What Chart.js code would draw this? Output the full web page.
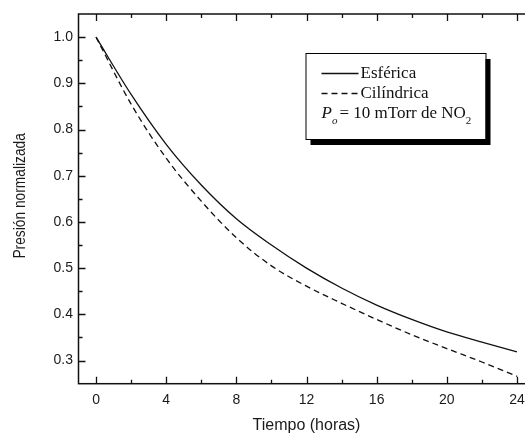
<!DOCTYPE html>
<html>
<head>
<meta charset="utf-8">
<script src="https://cdn.jsdelivr.net/npm/chart.js@4/dist/chart.umd.min.js"></script>
<style>
  html, body { margin: 0; padding: 0; background: #fff; overflow: hidden; }
  #wrap { width: 525px; height: 434px; overflow: hidden; position: relative; }
  #c { position: absolute; left: 0; top: 0; }
</style>
</head>
<body>
<div id="wrap"><canvas id="c" width="545" height="434"></canvas></div>
<script>
// Normalized NO2 pressure vs. time for two vessel geometries
const horas      = [0, 2, 4, 6, 8, 10, 12, 14, 16, 18, 20, 22, 24];
const esferica   = [1.000, 0.876, 0.768, 0.680, 0.607, 0.550, 0.500, 0.457, 0.420, 0.389, 0.362, 0.340, 0.319];
const cilindrica = [1.000, 0.855, 0.738, 0.645, 0.566, 0.505, 0.461, 0.424, 0.389, 0.356, 0.326, 0.297, 0.266];

const serieNames = ['Esférica', 'Cilíndrica'];
const xTicks  = [0, 4, 8, 12, 16, 20, 24];
const xMinor  = [2, 6, 10, 14, 18, 22];
const yTicks  = [0.3, 0.4, 0.5, 0.6, 0.7, 0.8, 0.9, 1.0];
const yMinor  = [0.35, 0.45, 0.55, 0.65, 0.75, 0.85, 0.95];
const xTitle  = 'Tiempo (horas)';
const yTitle  = 'Presión normalizada';

const toPts = (xs, ys) => xs.map((h, i) => ({ x: h, y: ys[i] }));

const INK = '#111';
const TEXT = '#1a1a1a';
const sansFont = "'Liberation Sans', Arial, sans-serif";
const serifFont = "'Liberation Serif', 'Times New Roman', serif";

// Frame with inward major/minor ticks on all four sides
const framePlugin = {
  id: 'frame',
  afterDatasetsDraw(chart) {
    const { ctx, chartArea: a, scales: { x, y } } = chart;
    ctx.save();
    ctx.strokeStyle = INK;
    ctx.lineWidth = 1.5;
    ctx.strokeRect(a.left, a.top, a.right - a.left, a.bottom - a.top);
    ctx.lineWidth = 1.3;
    ctx.beginPath();
    const xt = (v, len) => {
      const p = Math.round(x.getPixelForValue(v)) + 0.5;
      ctx.moveTo(p, a.bottom); ctx.lineTo(p, a.bottom - len);
      ctx.moveTo(p, a.top);    ctx.lineTo(p, a.top + len);
    };
    const yt = (v, len) => {
      const p = Math.round(y.getPixelForValue(v)) + 0.5;
      ctx.moveTo(a.left, p);  ctx.lineTo(a.left + len, p);
      ctx.moveTo(a.right, p); ctx.lineTo(a.right - len, p);
    };
    xTicks.forEach(v => xt(v, 7));
    xMinor.forEach(v => xt(v, 4));
    yTicks.forEach(v => yt(v, 7));
    yMinor.forEach(v => yt(v, 4));
    ctx.stroke();
    ctx.restore();
  }
};

// Vertical axis title, set slightly condensed along its length
const yTitlePlugin = {
  id: 'yTitle',
  afterDraw(chart) {
    const { ctx, chartArea: a } = chart;
    ctx.save();
    ctx.translate(21, (a.top + a.bottom) / 2 - 3);
    ctx.rotate(-Math.PI / 2);
    ctx.scale(0.86, 1);
    ctx.font = '16px ' + sansFont;
    ctx.fillStyle = TEXT;
    ctx.textAlign = 'center';
    ctx.textBaseline = 'middle';
    ctx.fillText(yTitle, 0, 0);
    ctx.restore();
  }
};

// Boxed key with drop shadow
const keyPlugin = {
  id: 'keyBox',
  afterDraw(chart) {
    const { ctx, chartArea: a } = chart;
    const L = a.left + 227, T = a.top + 39, W = 180, H = 86;
    ctx.save();
    ctx.fillStyle = '#000';
    ctx.fillRect(L + 5, T + 6, W, H);
    ctx.fillStyle = '#fff';
    ctx.fillRect(L, T, W, H);
    ctx.strokeStyle = '#000';
    ctx.lineWidth = 1;
    ctx.strokeRect(L + 0.5, T + 0.5, W, H);

    ctx.fillStyle = INK;
    ctx.textBaseline = 'alphabetic';
    ctx.textAlign = 'left';
    chart.data.datasets.forEach((ds, i) => {
      const ly = T + 20 + i * 20;
      ctx.beginPath();
      ctx.setLineDash(ds.borderDash || []);
      ctx.lineWidth = ds.borderWidth;
      ctx.strokeStyle = ds.borderColor;
      ctx.moveTo(L + 16, ly + 0.5);
      ctx.lineTo(L + 53, ly + 0.5);
      ctx.stroke();
      ctx.setLineDash([]);
      ctx.font = '17px ' + serifFont;
      ctx.fillText(ds.label, L + 55, T + 25 + i * 20);
    });

    // P_o = 10 mTorr de NO_2
    let cx = L + 16;
    const by = T + 65;
    ctx.font = 'italic 17px ' + serifFont;
    ctx.fillText('P', cx, by);
    cx += ctx.measureText('P').width;
    ctx.font = 'italic 11px ' + serifFont;
    ctx.fillText('o', cx, by + 6);
    cx += ctx.measureText('o').width + 2;
    ctx.font = '17px ' + serifFont;
    const main = '= 10 mTorr de NO';
    ctx.fillText(main, cx, by);
    cx += ctx.measureText(main).width;
    ctx.font = '11px ' + serifFont;
    ctx.fillText('2', cx, by + 6);
    ctx.restore();
  }
};

new Chart(document.getElementById('c'), {
  type: 'scatter',
  data: {
    datasets: [
      {
        label: serieNames[0],
        data: toPts(horas, esferica),
        showLine: true,
        borderColor: INK,
        borderWidth: 1.3,
        pointRadius: 0,
        cubicInterpolationMode: 'monotone',
        fill: false
      },
      {
        label: serieNames[1],
        data: toPts(horas, cilindrica),
        showLine: true,
        borderColor: INK,
        borderWidth: 1.3,
        borderDash: [6, 4],
        pointRadius: 0,
        cubicInterpolationMode: 'monotone',
        fill: false
      }
    ]
  },
  options: {
    responsive: false,
    animation: false,
    devicePixelRatio: 1,
    layout: { padding: { left: 0, right: 10.5, top: 14, bottom: 0 } },
    plugins: { legend: { display: false }, tooltip: { enabled: false } },
    scales: {
      x: {
        type: 'linear',
        min: -1,
        max: 25,
        afterBuildTicks: s => { s.ticks = xTicks.map(v => ({ value: v })); },
        afterFit: s => { s.height = 50.3; },
        grid: { display: false, drawTicks: false },
        border: { display: false },
        ticks: {
          padding: 8,
          color: TEXT,
          font: { family: sansFont, size: 14 },
          callback: v => String(v)
        },
        title: {
          display: true,
          text: xTitle,
          color: TEXT,
          font: { family: sansFont, size: 16, lineHeight: 1 },
          padding: { top: 0, bottom: 0 }
        }
      },
      y: {
        type: 'linear',
        min: 0.25,
        max: 1.05,
        afterBuildTicks: s => { s.ticks = yTicks.map(v => ({ value: v })); },
        afterFit: s => { s.width = 78.5; },
        grid: { display: false, drawTicks: false },
        border: { display: false },
        ticks: {
          padding: 5.5,
          color: TEXT,
          font: { family: sansFont, size: 14 },
          callback: v => v.toFixed(1)
        },
        title: { display: false }
      }
    }
  },
  plugins: [framePlugin, yTitlePlugin, keyPlugin]
});
</script>
</body>
</html>
